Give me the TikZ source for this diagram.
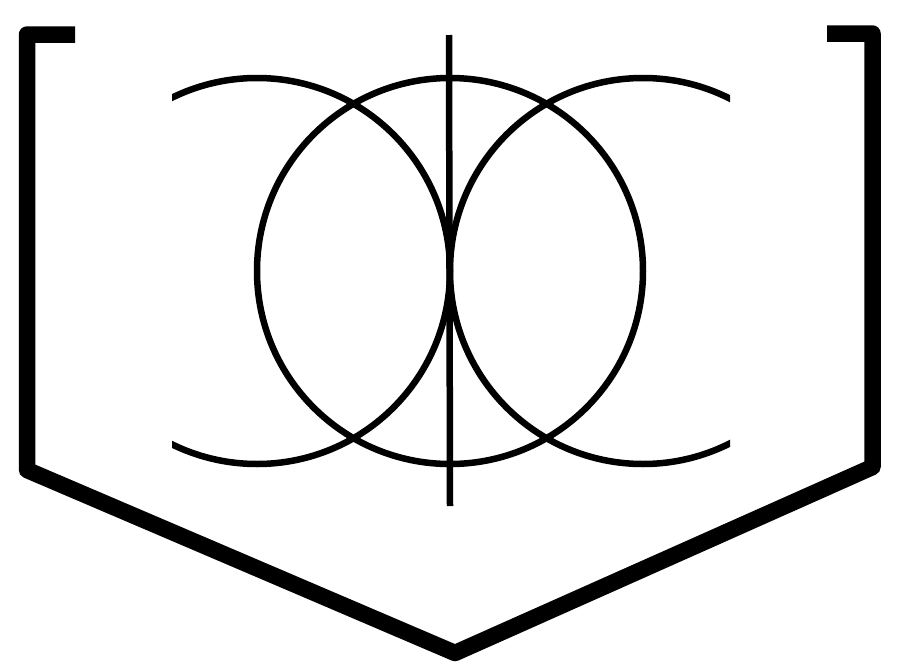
\documentclass[tikz,border=0pt]{standalone}
\begin{document}
\begin{tikzpicture}[x=1pt,y=-1pt,
  thinline/.style={line width=6.5pt},
  thickline/.style={line width=16.5pt, line join=round}]
\useasboundingbox (0,0) rectangle (903,672);
% centres
\coordinate (cl) at (257,271);
\coordinate (cm) at (450,271);
\coordinate (cr) at (643,271);
% outer bracket / hull
\coordinate (p1) at (75,34.5);
\coordinate (p2) at (27,34.5);
\coordinate (p3) at (27,470);
\coordinate (p4) at (455,653);
\coordinate (p5) at (872.5,467);
\coordinate (p6) at (872.5,33.5);
\coordinate (p7) at (827,33.5);
\draw[thickline] (p1) -- (p2) -- (p3) -- (p4) -- (p5) -- (p6) -- (p7);
% circles
\draw[thinline] (cm) circle [radius=193];
\begin{scope}
  \clip (172,0) rectangle (460,672);
  \draw[thinline] (cl) circle [radius=193];
\end{scope}
\begin{scope}
  \clip (440,0) rectangle (730,672);
  \draw[thinline] (cr) circle [radius=193];
\end{scope}
% vertical axis
\coordinate (vt) at (449,35);
\coordinate (vb) at (450,506);
\draw[thinline] (vt) -- (vb);
\end{tikzpicture}
\end{document}
